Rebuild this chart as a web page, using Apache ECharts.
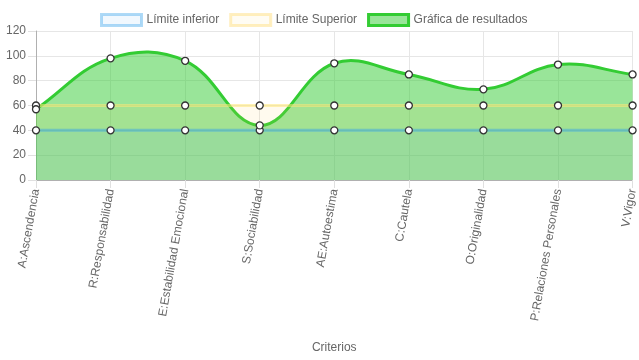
<!DOCTYPE html>
<html><head><meta charset="utf-8">
<script src="https://cdn.jsdelivr.net/npm/echarts@6/dist/echarts.min.js"></script>
<style>html,body{margin:0;padding:0;background:#fff}#c{width:639px;height:360px}</style>
</head><body><div id="c"></div>
<script>
var categories = ["A:Ascendencia","R:Responsabilidad","E:Estabilidad Emocional","S:Sociabilidad","AE:Autoestima","C:Cautela","O:Originalidad","P:Relaciones Personales","V:Vigor"];
var limiteInferior = [40,40,40,40,40,40,40,40,40];
var limiteSuperior = [60,60,60,60,60,60,60,60,60];
var resultados = [57,98,96,44,94,85,73,93,85];
var yTicks = [0,20,40,60,80,100,120];
var seriesNames = ["Límite inferior","Límite Superior","Gráfica de resultados"];

var font = 'Liberation Sans, Arial, sans-serif';
var TENSION = 0.4;
var chart = echarts.init(document.getElementById('c'), null, {renderer:'canvas'});

function mk(name, data, lineColor, areaColor, z){
  return {name:name, type:'line', data:data, smooth:false, z:z,
    symbol:'circle', symbolSize:7, showAllSymbol:true,
    lineStyle:{color:lineColor, width:3},
    itemStyle:{color:'#ffffff', borderColor:'#333333', borderWidth:1.3},
    areaStyle:{color:areaColor, origin:'start', opacity:1},
    emphasis:{disabled:true}, silent:true
  };
}

// Cardinal spline (Chart.js style, tension 0.4) through the scaled data points
function splinePath(pts){
  var cps = [];
  for (var i=0;i<pts.length;i++){
    var p = pts[i], prev = pts[i-1]||p, next = pts[i+1]||p;
    var d01 = Math.hypot(p[0]-prev[0], p[1]-prev[1]);
    var d12 = Math.hypot(next[0]-p[0], next[1]-p[1]);
    var s01 = d01/(d01+d12) || 0, s12 = d12/(d01+d12) || 0;
    var fa = TENSION*s01, fb = TENSION*s12;
    cps.push({
      prev:[p[0]-fa*(next[0]-prev[0]), p[1]-fa*(next[1]-prev[1])],
      next:[p[0]+fb*(next[0]-prev[0]), p[1]+fb*(next[1]-prev[1])]
    });
  }
  var d = 'M'+pts[0][0]+' '+pts[0][1];
  for (var j=1;j<pts.length;j++){
    d += ' C'+cps[j-1].next[0]+' '+cps[j-1].next[1]+' '+cps[j].prev[0]+' '+cps[j].prev[1]+' '+pts[j][0]+' '+pts[j][1];
  }
  return d;
}

var customData = resultados.map(function(v,i){return [i,v];});

chart.setOption({
  animation:false,
  textStyle:{fontFamily:font},
  legend:{top:8, left:95, itemWidth:40, itemHeight:11, itemGap:10,
    textStyle:{color:'#666', fontSize:12, fontFamily:font},
    data:[
      {name:seriesNames[0], icon:'rect', itemStyle:{color:'rgba(54,162,235,0.07)', borderColor:'rgba(54,162,235,0.4)', borderWidth:3}},
      {name:seriesNames[1], icon:'rect', itemStyle:{color:'rgba(255,206,86,0.07)', borderColor:'rgba(255,215,100,0.4)', borderWidth:3}},
      {name:seriesNames[2], icon:'rect', itemStyle:{color:'rgba(51,204,51,0.5)', borderColor:'rgb(51,204,51)', borderWidth:3}}
    ]},
  grid:{left:36, right:4, top:31, bottom:180, containLabel:false},
  xAxis:{type:'category', data:categories, boundaryGap:false,
    name:'Criterios', nameLocation:'middle', nameGap:162,
    nameTextStyle:{color:'#666', fontSize:12, fontFamily:font},
    axisLine:{show:true, lineStyle:{color:'#b0b0b0', width:1}},
    axisTick:{show:true, length:8, alignWithLabel:true, lineStyle:{color:'#e0e0e0'}},
    axisLabel:{rotate:80, color:'#666', fontSize:12, fontFamily:font, margin:9, interval:0},
    splitLine:{show:true, lineStyle:{color:'#e6e6e6'}}
  },
  yAxis:{type:'value', min:0, max:120, interval:20,
    axisLine:{show:true, lineStyle:{color:'#b0b0b0'}},
    axisTick:{show:true, length:8, lineStyle:{color:'#e0e0e0'}},
    axisLabel:{color:'#666', fontSize:12, fontFamily:font, margin:10,
      formatter:function(v){return yTicks.indexOf(v)>=0?String(v):'';}},
    splitLine:{show:true, lineStyle:{color:'#e6e6e6'}}
  },
  series:[
    {name:seriesNames[2], type:'custom', z:1, silent:true, data:customData,
      renderItem:function(params, api){
        if (params.dataIndex !== 0) return null;
        var pts = resultados.map(function(v,i){return api.coord([i,v]);});
        var line = splinePath(pts);
        var b0 = api.coord([0,0]), b1 = api.coord([resultados.length-1,0]);
        var area = line + ' L'+b1[0]+' '+b1[1]+' L'+b0[0]+' '+b0[1]+' Z';
        return {type:'group', children:[
          {type:'path', shape:{pathData:area}, style:{fill:'rgba(51,204,51,0.5)', stroke:null}},
          {type:'path', shape:{pathData:line}, style:{fill:null, stroke:'rgb(51,204,51)', lineWidth:3}}
        ]};
      }
    },
    mk(seriesNames[1], limiteSuperior, 'rgba(255,232,120,0.55)', 'rgba(255,206,86,0.1)', 3),
    mk(seriesNames[0], limiteInferior, 'rgba(54,162,235,0.45)', 'rgba(54,162,235,0.1)', 4),
    {name:seriesNames[2], type:'line', data:resultados, z:5, silent:true,
      symbol:'circle', symbolSize:7, showAllSymbol:true,
      lineStyle:{opacity:0, width:0},
      itemStyle:{color:'#ffffff', borderColor:'#333333', borderWidth:1.3},
      emphasis:{disabled:true}
    }
  ]
});
</script></body></html>
